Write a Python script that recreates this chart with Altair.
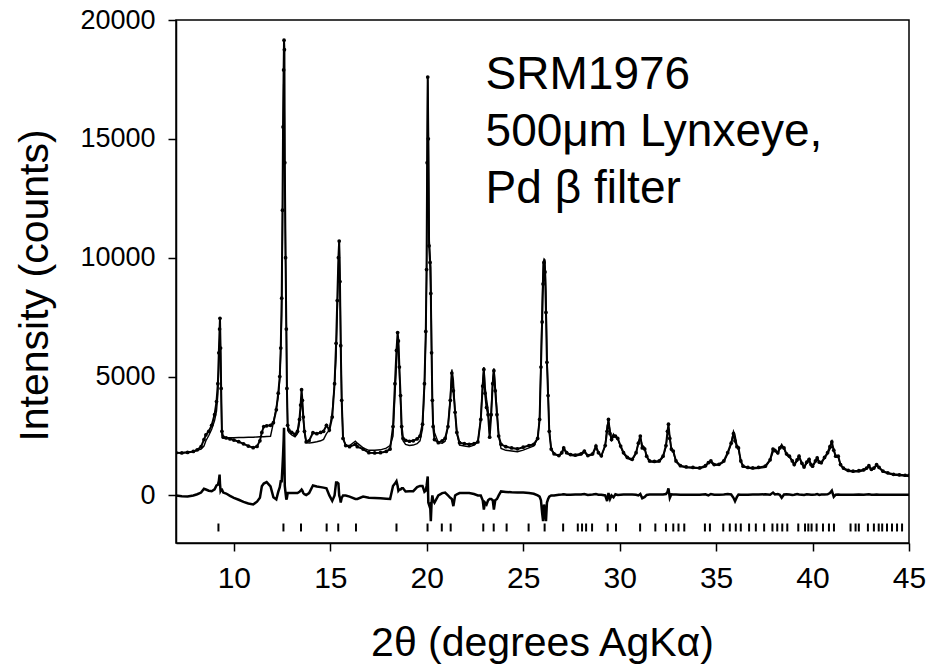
import altair as alt
import pandas as pd

# ---- data ----
two_theta = [
    7.00, 7.30, 7.60, 7.90, 8.10, 8.30, 8.45, 8.55, 8.70, 8.85, 9.00, 9.10, 9.17, 9.22, 9.26, 9.28, 9.31, 9.34, 9.38,
    9.45, 9.60, 9.80, 10.00, 10.25, 10.50, 10.75, 11.00, 11.20, 11.35, 11.45, 11.55, 11.70, 11.90, 12.05, 12.20,
    12.30, 12.38, 12.43, 12.48, 12.52, 12.55, 12.58, 12.60, 12.62, 12.64, 12.68, 12.72, 12.75, 12.79, 12.85,
    13.00, 13.17, 13.30, 13.40, 13.46, 13.51, 13.55, 13.60, 13.66, 13.75, 13.90, 14.10, 14.30, 14.50, 14.65, 14.80,
    14.95, 15.10, 15.22, 15.30, 15.36, 15.42, 15.46, 15.50, 15.54, 15.59, 15.66, 15.80, 16.00, 16.30, 16.40, 16.70,
    17.00, 17.30, 17.60, 17.90, 18.10, 18.25, 18.35, 18.43, 18.49, 18.53, 18.58, 18.64, 18.70, 18.77, 18.90, 19.10,
    19.30, 19.50, 19.65, 19.78, 19.88, 19.95, 19.99, 20.02, 20.05, 20.08, 20.12, 20.17, 20.21, 20.25, 20.29, 20.33,
    20.40, 20.60, 20.80, 20.95,
    21.10, 21.22, 21.30, 21.38, 21.47, 21.56, 21.70, 21.95, 22.20, 22.45, 22.65, 22.80, 22.90, 22.96, 23.02, 23.10,
    23.18, 23.26, 23.34, 23.42, 23.48, 23.55, 23.64, 23.73, 23.85, 24.10, 24.40, 24.70, 25.00, 25.30, 25.55, 25.75,
    25.85, 25.92, 25.98, 26.03, 26.08, 26.13, 26.18, 26.23, 26.29, 26.35, 26.45,
    26.60, 26.85, 27.00, 27.10, 27.25, 27.45, 27.70, 28.00, 28.17, 28.35, 28.60, 28.77, 28.90, 29.05, 29.25, 29.35,
    29.42, 29.50, 29.58, 29.68, 29.78, 29.90, 30.05, 30.20, 30.40, 30.65, 30.85, 30.97, 31.07, 31.17, 31.30, 31.40,
    31.55, 31.80, 32.05, 32.25, 32.40, 32.48, 32.53, 32.60, 32.68, 32.78, 32.92, 33.15, 33.45, 33.80, 34.15, 34.45,
    34.60, 34.73, 34.90, 35.15, 35.40, 35.60, 35.78, 35.90, 35.98, 36.08, 36.16, 36.28, 36.40, 36.65, 36.90, 37.20,
    37.55, 37.80, 37.95, 38.05, 38.20, 38.30, 38.40, 38.52, 38.65, 38.80, 38.95, 39.05, 39.20, 39.30, 39.45, 39.56,
    39.70, 39.82, 39.92, 40.00, 40.15, 40.24, 40.35, 40.45, 40.62, 40.78, 40.90, 41.00, 41.10, 41.20, 41.33, 41.45,
    41.60, 41.85, 42.10, 42.40, 42.65, 42.80, 42.92, 43.05, 43.18, 43.32, 43.45, 43.65, 43.90, 44.20, 44.50, 44.80,
    45.00,
]

observed = [
    1800, 1790, 1810, 1850, 1920, 2050, 2350, 2550, 2700, 2950, 3400, 3950, 4700, 6000, 7000, 7450, 6200, 4500, 2700,
    2450, 2420, 2380, 2330, 2260, 2170, 2080, 2010, 2060, 2300, 2650, 2900, 2930, 2950, 3060, 3600,
    4300, 5000, 6200, 8300, 12000, 15500, 17900, 19150, 18750, 14000, 10000, 7000, 4500, 2950, 2750,
    2650, 2570, 2700, 3200, 3800, 4450, 4000, 3300, 2700, 2250, 2300, 2640, 2600, 2650, 2700, 2950,
    2750, 3300, 4700, 6400, 8200, 10000, 10700, 9000, 6300, 4000, 2400, 2100, 2050, 2150, 2050, 1950,
    1800, 1790, 1800, 1850, 1950, 2900, 4700, 6100, 6850, 6500, 5400, 4200, 2900, 2400, 2320, 2280,
    2300, 2380, 2500, 3000, 4700, 6900, 9500, 14000, 17600, 15000, 10500, 9800, 8500, 6000, 4000, 2900,
    2350, 2220, 2300, 2400,
    2900, 4000, 5150, 4400, 3500, 2650, 2220, 2180, 2150, 2180, 2250, 3200, 4600, 5300, 4300, 3700,
    3400, 2450, 3400, 4700, 5250, 4400, 3400, 2500, 2150, 2050, 2000, 1960, 2030, 2100, 2150, 2400,
    3200, 5400, 7300, 8900, 9800, 9400, 7700, 5600, 4200, 2700, 1950,
    1750, 1680, 1800, 2000, 1800, 1720, 1700, 1750, 1870, 1680, 1750, 2080, 1800, 1670, 2100, 2700,
    3200, 2600, 2350, 2500, 2500, 2400, 2080, 1800, 1600, 1520, 1800, 2200, 2500, 2000, 1950, 1650,
    1450, 1430, 1450, 1650, 2100, 2700, 3000, 2400, 1950, 1870, 1450, 1250, 1200, 1180, 1160, 1250,
    1380, 1450, 1300, 1310, 1450, 1800, 2200, 2600, 2300, 2050, 2000, 1450, 1230, 1180, 1160, 1180,
    1230, 1500, 1950, 1900, 1800, 2000, 2050, 2000, 1750, 1650, 1450, 1300, 1500, 1650, 1350, 1200,
    1400, 1520, 1300, 1230, 1450, 1580, 1400, 1380, 1600, 1800, 2050, 2250, 1900, 1650, 1650, 1300,
    1150, 1050, 1020, 1040, 1080, 1150, 1250, 1100, 1150, 1300, 1180, 1020, 950, 890, 870, 850,
    840,
]

calculated = [
    1800, 1800, 1830, 1850, 1900, 1950, 2080, 2300, 2520, 2780, 3150, 3550, 4250, 5400, 6500, 6950, 6000, 4300, 2500,
    2430, 2430, 2430, 2430, 2440, 2440, 2450, 2450, 2460, 2470, 2470, 2470, 2480, 2490, 3060, 3700,
    4150, 4900, 6000, 7600, 11000, 14800, 17300, 17460, 15900, 13500, 10100, 7200, 4600, 2850, 2650,
    2550, 2470, 2600, 3050, 3600, 4150, 3800, 3200, 2650, 2230, 2200, 2230, 2260, 2300, 2360, 2600,
    2750, 3500, 4700, 5850, 7650, 9500, 10700, 9100, 6600, 4100, 2400, 2100, 2100, 2280, 2200, 2000,
    1900, 1900, 1920, 1990, 2100, 2500, 4200, 5500, 6450, 6300, 5150, 3950, 2600, 2300, 2150, 2100,
    2120, 2180, 2300, 2800, 4550, 6700, 9100, 13400, 17500, 15300, 10900, 10100, 9600, 6300, 4000, 3100,
    2650, 2220, 2200, 2280,
    2900, 4100, 5300, 4850, 3500, 2600, 2120, 2080, 2050, 2120, 2250, 3200, 4800, 5400, 4600, 4050,
    3600, 2600, 3550, 4900, 5350, 4600, 3550, 2500, 1980, 1900, 1870, 1840, 1910, 2000, 2080, 2400,
    3250, 5600, 8000, 9800, 9950, 9900, 8600, 5900, 4350, 2750, 1950,
    1750, 1650, 1760, 1950, 1770, 1690, 1660, 1710, 1810, 1660, 1710, 2020, 1770, 1640, 2100, 2940,
    3100, 2750, 2350, 2580, 2450, 2380, 2050, 1760, 1560, 1480, 1770, 2200, 2440, 2120, 2010, 1630,
    1410, 1390, 1410, 1610, 2040, 2550, 2700, 2500, 1900, 1830, 1410, 1220, 1170, 1150, 1130, 1200,
    1380, 1390, 1270, 1280, 1410, 1740, 2160, 2700, 2540, 2110, 1960, 1420, 1200, 1150, 1120, 1140,
    1180, 1470, 1830, 1860, 1740, 1970, 2150, 1960, 1700, 1610, 1430, 1270, 1440, 1610, 1320, 1180,
    1350, 1480, 1270, 1200, 1410, 1520, 1380, 1340, 1560, 1750, 1950, 2050, 1960, 1620, 1610, 1270,
    1120, 1020, 990, 1000, 1050, 1110, 1200, 1070, 1120, 1260, 1150, 990, 920, 860, 840, 820,
    810,
]

difference = [
    0, -30, -40, 0, 50, 120, 280, 250, 200, 180, 260, 420, 450, 600, 880, 500, 200, 250, 250,
    120, 80, -20, -100, -180, -270, -340, -380, -260, -100, 390, 500, 560, 380, -80, -170,
    150, 350, 600, 600, 1200, 1700, 2300, 2850, 1500, 400, 100, -170, -100, 100, 100,
    100, 100, 100, 150, 200, 250, 200, 100, 50, 20, 100, 420, 380, 350, 330, 300,
    0, -230, 0, 550, 550, 500, 0, -100, -300, -100, 0, 0, -50, -150, -150, -50,
    -100, -110, -120, -140, -150, 400, 500, 600, 400, 200, 250, 250, 300, 300, 170, 180,
    180, 350, 400, 400, 150, 200, 400, 600, 800, -300, -400, -300, -1080, -300, 0, -200,
    -300, 0, 100, 120,
    0, -100, -150, -450, 0, 50, 100, 100, 100, 60, 0, 0, -200, -590, -300, -380,
    -200, -150, -150, -200, -590, -200, -150, 0, 170, 150, 130, 120, 120, 100, 70, 0,
    -50, -200, -730, -1080, -380, -700, -1080, -300, -150, -50, 0,
    0, 30, 40, 50, 30, 30, 40, 40, 60, 20, 40, 60, 30, 30, 0, -240,
    100, -150, 0, -80, 50, 20, 30, 40, 40, 40, 30, 0, 60, -120, -60, 20,
    40, 40, 40, 40, 60, 150, 300, -100, 50, 40, 40, 30, 30, 30, 30, 50,
    0, 60, 30, 30, 40, 60, 40, -100, -240, -60, 40, 30, 30, 30, 40, 40,
    50, 30, 120, 40, 60, 30, -100, 40, 50, 40, 20, 30, 60, 40, 30, 20,
    50, 40, 30, 30, 40, 60, 20, 40, 40, 50, 100, 200, -60, 30, 40, 30,
    30, 30, 30, 40, 30, 40, 50, 30, 30, 40, 30, 30, 30, 30, 30, 30,
    30,
]

reflections = [
    9.20, 12.57, 13.48, 14.81, 15.41, 16.33, 18.43, 20.04, 20.78, 21.24, 22.93, 23.47, 24.14, 25.28, 26.11,
    27.07, 27.83, 28.05, 28.26, 28.57, 29.38, 29.81, 31.06, 31.85, 32.40, 32.78, 33.05, 33.35, 34.42, 34.68,
    35.37, 35.71, 36.02, 36.28, 36.71, 37.06, 37.49, 37.92, 38.17, 38.43, 38.69, 39.26, 39.61, 39.78, 39.95,
    40.21, 40.54, 40.85, 41.11, 41.97, 42.23, 42.40, 42.87, 43.18, 43.43, 43.61, 43.86, 44.12, 44.38, 44.64,
]

x_ticks = [10, 15, 20, 25, 30, 35, 40, 45]
y_ticks = [0, 5000, 10000, 15000, 20000]
annotation_lines = ["SRM1976", "500μm Lynxeye,", "Pd β filter"]

assert len(two_theta) == len(observed) == len(calculated) == len(difference), (
    len(two_theta), len(observed), len(calculated), len(difference))

pattern = pd.DataFrame({
    "two_theta": two_theta,
    "observed": observed,
    "calculated": calculated,
    "difference": difference,
})
refl = pd.DataFrame({"pos": reflections})
note = pd.DataFrame({"label": ["\n".join(annotation_lines)]})

FONT = "Liberation Sans"
W, H = 733, 523

x_scale = alt.Scale(domain=[7, 45], nice=False, zero=False)
y_scale = alt.Scale(domain=[-2000, 20000], nice=False, zero=False)

x_axis = alt.Axis(
    values=x_ticks, format="d", grid=False, title="2θ (degrees AgKα)",
    labelFont=FONT, labelFontSize=30, labelColor="black", labelPadding=12,
    labelFlush=False, labelOverlap=False,
    tickSize=8, tickWidth=1.5, tickColor="black",
    domainColor="black", domainWidth=1.5,
    titleFont=FONT, titleFontSize=41, titleFontWeight="normal", titleColor="black",
    titleX=366, titleY=112, titleAlign="center", titleBaseline="alphabetic",
)
y_axis = alt.Axis(
    values=y_ticks, format="d", grid=False, title="Intensity (counts)",
    labelFont=FONT, labelFontSize=27, labelColor="black", labelPadding=13,
    labelFlush=False, labelOverlap=False,
    tickSize=8, tickWidth=1.5, tickColor="black",
    domainColor="black", domainWidth=1.5,
    titleFont=FONT, titleFontSize=41, titleFontWeight="normal", titleColor="black",
    titleAngle=270, titleX=-129, titleY=265, titleAlign="center", titleBaseline="alphabetic",
)


def xenc(field):
    return alt.X(field, type="quantitative", scale=x_scale, axis=x_axis)


def yenc(field):
    return alt.Y(field, type="quantitative", scale=y_scale, axis=y_axis)


calc_line = alt.Chart(pattern).mark_line(color="black", strokeWidth=1.4, clip=True).encode(
    x=xenc("two_theta"), y=yenc("calculated"))
obs_line = alt.Chart(pattern).mark_line(color="black", strokeWidth=2.0, clip=True).encode(
    x=xenc("two_theta"), y=yenc("observed"))
obs_pts = alt.Chart(pattern).mark_circle(color="black", size=14, opacity=1, clip=True).encode(
    x=xenc("two_theta"), y=yenc("observed"))
diff_line = alt.Chart(pattern).mark_line(color="black", strokeWidth=2.5, clip=True).encode(
    x=xenc("two_theta"), y=yenc("difference"))
refl_ticks = alt.Chart(refl).mark_rule(color="black", strokeWidth=2).encode(
    x=xenc("pos"), y=alt.datum(-1515, scale=y_scale), y2=alt.datum(-1180))
text = alt.Chart(note).mark_text(
    align="left", baseline="alphabetic", font=FONT, fontSize=46, lineHeight=57,
    lineBreak="\n", color="black",
).encode(x=alt.datum(23.05, scale=x_scale), y=alt.datum(17080), text="label:N")

chart = alt.layer(calc_line, obs_line, obs_pts, diff_line, refl_ticks, text).properties(
    width=W, height=H,
    padding={"left": 176, "top": 20, "right": 19, "bottom": 121},
    autosize=alt.AutoSizeParams(type="none"),
    background="white",
).configure_view(stroke="black", strokeWidth=1.5)

chart.save("out.html", embed_options={"renderer": "svg", "actions": False})
